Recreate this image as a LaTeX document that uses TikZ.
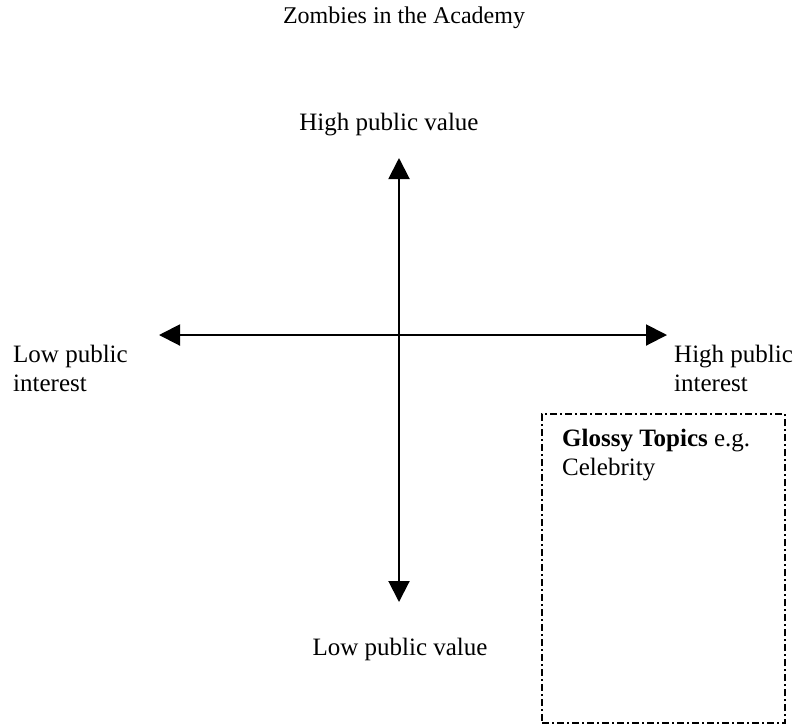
\documentclass[tikz,border=0pt]{standalone}
\usepackage{fontspec}
\setmainfont{Liberation Serif}
\usetikzlibrary{arrows.meta}
\tikzset{>={Triangle[length=21pt,width=21pt]},every node/.style={font=\fontsize{25}{29}\selectfont,inner sep=0pt},axis/.style={line width=2pt,<->},glossy/.style={draw,line width=2pt,dash pattern=on 7pt off 3pt on 2pt off 3pt}}
\begin{document}
\begin{tikzpicture}[x=1pt,y=-1pt]
\useasboundingbox (0,0) rectangle (799,724);
\node[anchor=base,font=\fontsize{24}{28}\selectfont] (title) at (404,23){Zombies in the Academy};
\coordinate (top) at (399,158);\coordinate (bottom) at (399,602);\coordinate (left) at (159,335);\coordinate (right) at (667,335);
\draw[axis] (bottom)--(top);\draw[axis] (left)--(right);
\node[anchor=base] (highval) at (389,130){High public value};\node[anchor=base] (lowval) at (400,655){Low public value};
\node[anchor=north west,align=left] (lowint) at (13,345){Low public\\interest};
\node[anchor=north west,align=left] (highint) at (674,345){High public\\interest};
\node[glossy,anchor=north west,minimum width=243pt,minimum height=309pt] (glossybox) at (541,413){};
\node[anchor=north west,align=left] (glossytxt) at (562,429){\textbf{Glossy Topics} e.g.\\Celebrity};
\end{tikzpicture}
\end{document}
